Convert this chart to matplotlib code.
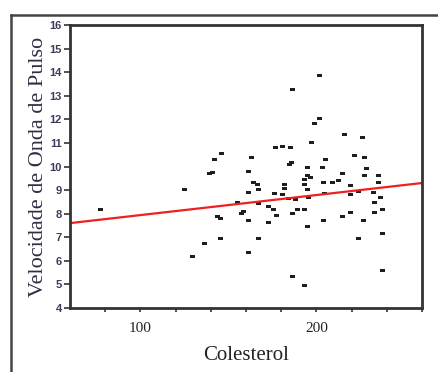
import numpy as np
import matplotlib
matplotlib.use('Agg')
import matplotlib.pyplot as plt
from matplotlib.lines import Line2D

# Data

colesterol = [201.5, 186.4, 201.5, 198.9, 215.7, 225.7, 196.8, 176.5, 180.3, 185.0,
              145.6, 142.0, 140.5, 139.0, 162.9, 161.0, 185.6, 184.7, 194.5, 204.9,
              203.4, 221.2, 227.1, 228.0, 214.8, 227.3, 235.2, 235.2, 194.5, 196.4,
              193.2, 204.0, 208.7, 212.5, 219.1, 181.8, 181.8, 164.2, 166.1, 193.2,
              161.0, 167.0, 176.1, 180.3, 195.0, 194.5, 204.5, 219.1, 223.9, 232.4,
              236.2, 233.0, 154.7, 167.0, 172.3, 175.6, 157.2, 158.5, 143.4, 145.3,
              161.0, 172.3, 177.1, 186.0, 188.8, 193.2, 194.5, 204.0, 214.4, 219.1,
              226.7, 233.0, 237.5, 237.1, 223.9, 167.0, 145.3, 136.4, 161.0, 186.4,
              237.5, 193.0, 77.1, 124.8, 129.5, 184.0, 188.0]
velocidade = [13.88, 13.27, 12.04, 11.83, 11.36, 11.24, 11.05, 10.81, 10.88, 10.81,
              10.56, 10.30, 9.78, 9.72, 10.39, 9.81, 10.20, 10.09, 9.99, 10.30,
              9.97, 10.49, 10.39, 9.92, 9.71, 9.64, 9.64, 9.36, 9.64, 9.54,
              9.47, 9.36, 9.36, 9.43, 9.21, 9.26, 9.10, 9.36, 9.26, 9.26,
              8.93, 9.03, 8.86, 8.83, 8.69, 9.03, 8.86, 8.83, 8.97, 8.93,
              8.72, 8.51, 8.51, 8.47, 8.32, 8.18, 8.04, 8.11, 7.90, 7.80,
              7.73, 7.66, 7.94, 8.04, 8.18, 8.18, 7.48, 7.73, 7.90, 8.08,
              7.73, 8.08, 8.18, 7.19, 6.95, 6.95, 6.95, 6.77, 6.39, 5.36,
              5.61, 4.97, 8.18, 9.03, 6.20, 8.65, 8.62]

# fitted line, ends
fit_x = [60, 260]
fit_y = [7.6, 9.3]

fig = plt.figure(figsize=(4.39, 3.72), dpi=100)
ax = fig.add_axes([0.1595, 0.172, 0.8018, 0.7608])

dash = [(-1, -0.6), (1, -0.6), (1, 0.6), (-1, 0.6)]
ax.plot(colesterol, velocidade, linestyle='none', marker=dash, markersize=3.6,
        color='#1e1e1e', markeredgewidth=0)
ax.plot(fit_x, fit_y, color='#ee2020', linewidth=1.6)

ax.set_xlim(60, 260)
ax.set_ylim(4, 16)
ax.set_xticks([100, 200])
ax.set_xticks(np.arange(80, 261, 20), minor=True)
ax.set_yticks(np.arange(4, 17, 1))

for s in ax.spines.values():
    s.set_linewidth(2.0)
    s.set_color('#333333')

ax.tick_params(axis='y', direction='out', length=4, width=1.2, color='#333333',
               labelsize=8, labelcolor='#3c3c5a', pad=2)
ax.tick_params(axis='x', which='both', direction='out', length=3, width=1.2,
               color='#333333', labelsize=11, pad=7)
for lab in ax.get_yticklabels():
    lab.set_fontfamily('Liberation Sans')
    lab.set_fontweight('bold')
for lab in ax.get_xticklabels():
    lab.set_fontfamily('Liberation Serif')
    lab.set_color('#222222')

ax.set_xlabel('Colesterol', family='Liberation Serif', fontsize=15,
              color='#222222', labelpad=8)
ax.set_ylabel('Velocidade de Onda de Pulso', family='Liberation Serif', fontsize=16,
              color='#2e2e44', labelpad=1)

# outer frame (top and left edges)
fig.add_artist(Line2D([11 / 439, 1.0], [1 - 15 / 372, 1 - 15 / 372],
                      transform=fig.transFigure, color='#444444', linewidth=1.8))
fig.add_artist(Line2D([11 / 439, 11 / 439], [1 - 15 / 372, 0.0],
                      transform=fig.transFigure, color='#444444', linewidth=1.8))

fig.savefig('out.png', dpi=100)
